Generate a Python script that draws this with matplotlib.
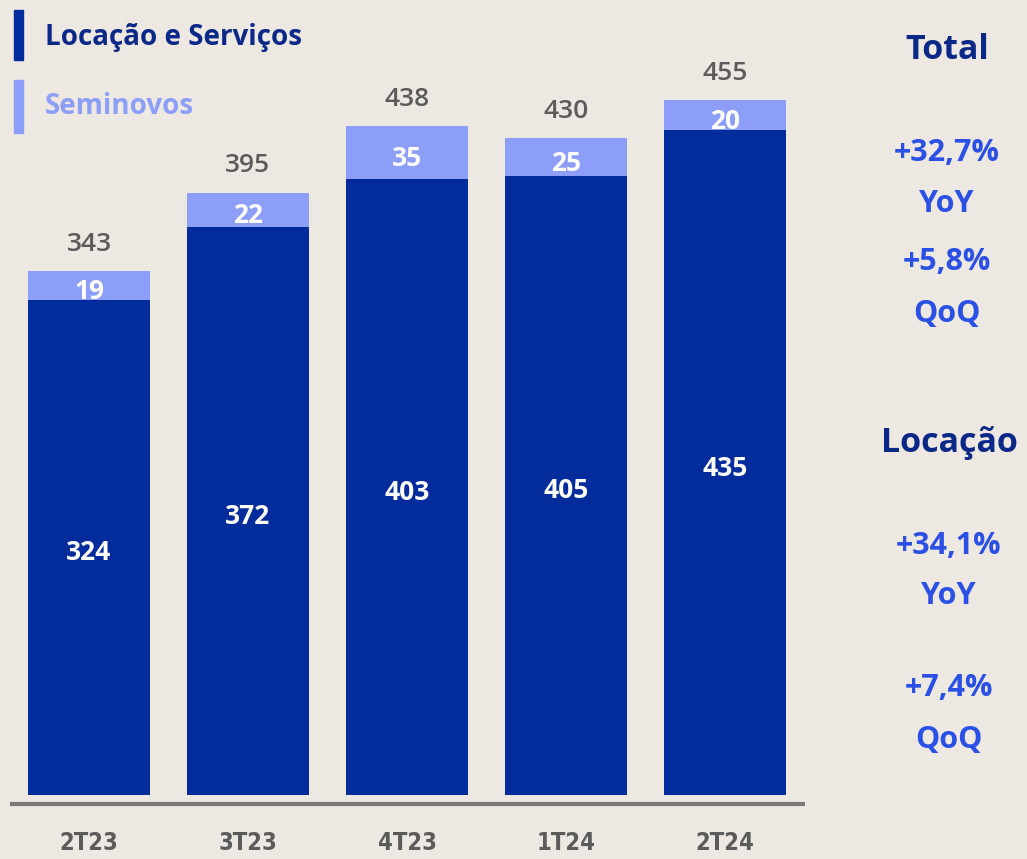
import matplotlib.pyplot as plt
import numpy as np

# Dados (R$ milhões)
trimestres = ['2T23', '3T23', '4T23', '1T24', '2T24']
locacao = [324, 372, 403, 405, 435]
seminovos = [19, 22, 35, 25, 20]
totais = [343, 395, 438, 430, 455]

painel_total = ['Total', '+32,7%', 'YoY', '+5,8%', 'QoQ']
painel_locacao = ['Locação', '+34,1%', 'YoY', '+7,4%', 'QoQ']

fundo = '#ede8e1'
azul_escuro = '#022b9b'
azul_claro = '#8c9ef8'
azul_vivo = '#2b50e6'
navy = '#0a2888'
cinza = '#5b5b5b'

plt.rcParams['font.family'] = ['Open Sans', 'DejaVu Sans']

W, H = 1027, 859
fig = plt.figure(figsize=(W / 100, H / 100), dpi=100, facecolor=fundo)

# eixo em pixels: x de 9.5 a 804.5, y de 0 a 815 (topo)
ax = fig.add_axes([9.5 / W, (H - 815) / H, 795 / W, 815 / H])
ax.set_facecolor(fundo)
x = np.arange(len(trimestres))
larg = 122 / 159

ax.bar(x, locacao, width=larg, color=azul_escuro, zorder=3)
ax.bar(x, seminovos, width=larg, bottom=locacao, color=azul_claro, zorder=2)

for i in range(len(x)):
    ax.text(x[i], locacao[i] / 2 - 3.5, str(locacao[i]), ha='center', va='center',
            color='white', fontsize=19, fontweight='bold', zorder=4)
    # rótulo do seminovo fica um pouco abaixo e é cortado pela barra escura
    ax.text(x[i], locacao[i] + seminovos[i] / 2 - 4, str(seminovos[i]), ha='center', va='center',
            color='white', fontsize=19, fontweight='bold', zorder=2.5)
    ax.text(x[i], totais[i] + 17, str(totais[i]), ha='center', va='center',
            color=cinza, fontsize=19, fontweight='semibold')

ax.set_xlim(-0.5, 4.5)
ax.set_ylim(-13.1, 520.3)
ax.axhline(-6, color='#7a7a7a', linewidth=3, zorder=3)
for s in ax.spines.values():
    s.set_visible(False)
ax.set_xticks([])
ax.set_yticks([])

# rótulos do eixo x
for i, t in enumerate(trimestres):
    fig.text((89 + 159 * i) / W, 1 - 843 / H, t, ha='center', va='center',
             color=cinza, fontsize=17, fontweight='bold',
             family=['DejaVu Sans'], fontstretch='condensed')

# legenda
fig.patches.append(plt.Rectangle((14 / W, 1 - 60 / H), 9 / W, 50 / H,
                                 transform=fig.transFigure, color=azul_escuro))
fig.patches.append(plt.Rectangle((14 / W, 1 - 133 / H), 9 / W, 53 / H,
                                 transform=fig.transFigure, color=azul_claro))
fig.text(45 / W, 1 - 37 / H, 'Locação e Serviços', ha='left', va='center',
         color=navy, fontsize=20, fontweight='bold')
fig.text(45 / W, 1 - 107 / H, 'Seminovos', ha='left', va='center',
         color=azul_claro, fontsize=20, fontweight='bold')

# painel da direita
ys_total = [50, 153, 204, 262, 314]
ys_loc = [443, 546, 596, 688, 740]
for txt, yy in zip(painel_total, ys_total):
    cor = navy if txt == 'Total' else azul_vivo
    fs = 24.5 if txt == 'Total' else 22
    fig.text(947 / W, 1 - yy / H, txt, ha='center', va='center', color=cor,
             fontsize=fs, fontweight='bold')
for txt, yy in zip(painel_locacao, ys_loc):
    cor = navy if txt == 'Locação' else azul_vivo
    fs = 24.5 if txt == 'Locação' else 22
    fig.text(949 / W, 1 - yy / H, txt, ha='center', va='center', color=cor,
             fontsize=fs, fontweight='bold')

fig.savefig('out.png', dpi=100, facecolor=fundo)
